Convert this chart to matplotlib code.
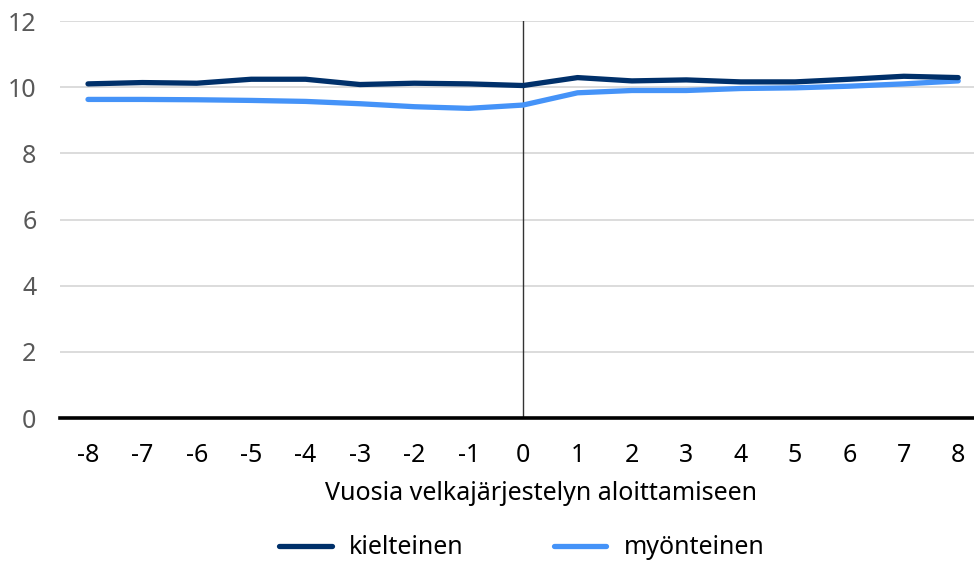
import matplotlib.pyplot as plt

plt.rcParams['font.family'] = ['Noto Sans', 'DejaVu Sans']

years = [-8, -7, -6, -5, -4, -3, -2, -1, 0, 1, 2, 3, 4, 5, 6, 7, 8]
kielteinen = [10.10, 10.14, 10.12, 10.24, 10.24, 10.08, 10.12, 10.10, 10.05,
              10.29, 10.19, 10.22, 10.16, 10.16, 10.24, 10.33, 10.29]
myonteinen = [9.63, 9.63, 9.62, 9.60, 9.57, 9.50, 9.41, 9.36, 9.46,
              9.83, 9.90, 9.90, 9.96, 9.98, 10.03, 10.10, 10.19]
yticks = [0, 2, 4, 6, 8, 10, 12]

fig = plt.figure(figsize=(9.74, 5.62), dpi=100)
ax = fig.add_axes([0.0616, 0.2562, 0.9384, 0.7064])

for y in yticks[1:]:
    ax.axhline(y, color='#d9d9d9', lw=1.3, zorder=0)
ax.axvline(0, color='#333333', lw=1.0, zorder=1)

ax.plot(years, kielteinen, color='#00306a', lw=3.8, solid_capstyle='round',
        label='kielteinen', zorder=3)
ax.plot(years, myonteinen, color='#4593f8', lw=3.8, solid_capstyle='round',
        label='myönteinen', zorder=2)

ax.set_xlim(-8.515, 8.29)
ax.set_ylim(0, 12)
ax.set_xticks(years)
ax.set_xticklabels([str(v) for v in years])
ax.set_yticks(yticks)
ax.tick_params(axis='both', length=0, labelsize=18)
ax.tick_params(axis='x', pad=18, colors='black')
ax.tick_params(axis='y', pad=17, labelcolor='#595959')

for s in ['top', 'right', 'left']:
    ax.spines[s].set_visible(False)
ax.spines['bottom'].set_linewidth(2.6)
ax.spines['bottom'].set_color('black')
ax.spines['bottom'].set_zorder(4)

fig.text(541 / 974, 1 - 494 / 562, 'Vuosia velkajärjestelyn aloittamiseen',
         ha='center', va='center', fontsize=18)

fig.legend(loc='center', bbox_to_anchor=(522 / 974, 1 - 548 / 562), ncol=2,
           frameon=False, fontsize=18, handlelength=2.1, columnspacing=3.6,
           handletextpad=0.7)

fig.savefig('out.png', dpi=100)
